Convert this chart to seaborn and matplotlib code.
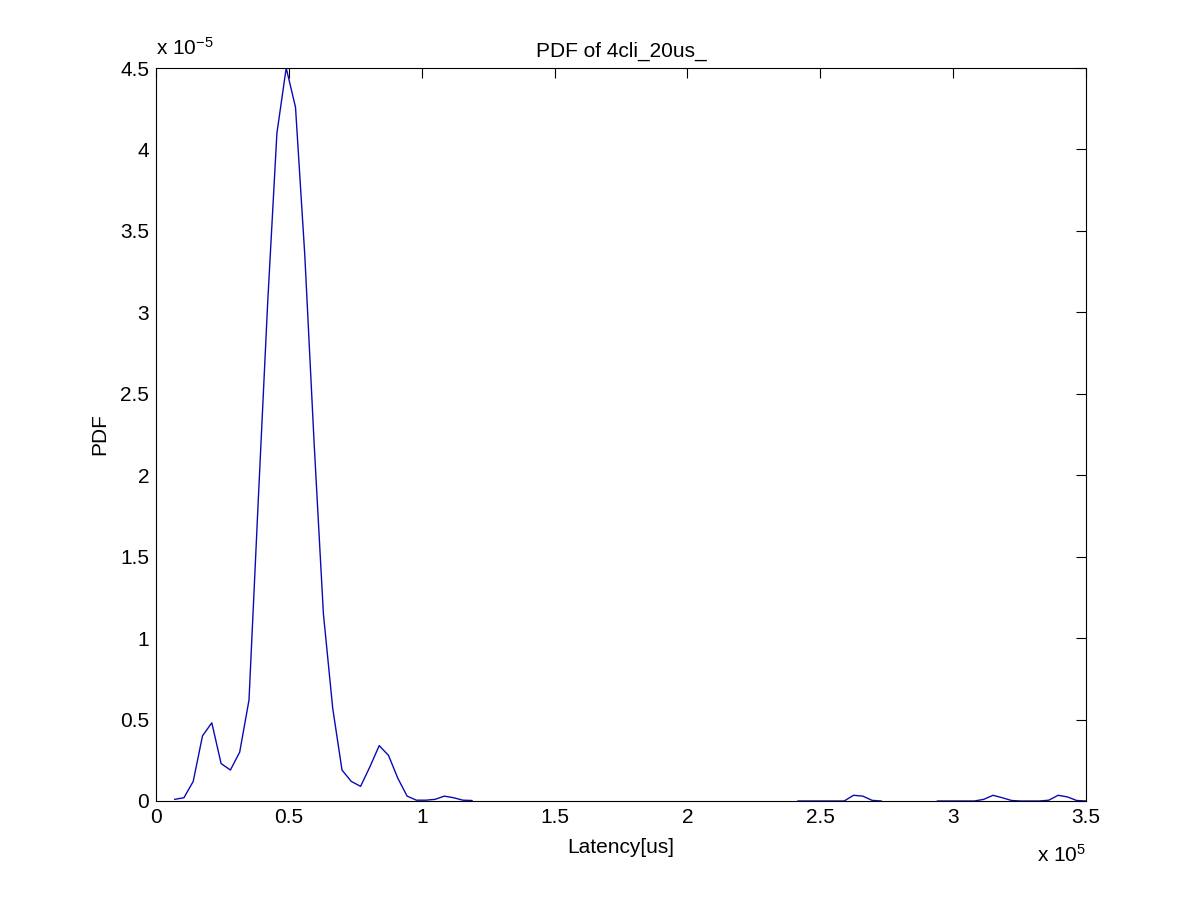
import numpy as np
import pandas as pd
import seaborn as sns
import matplotlib.pyplot as plt
from matplotlib.ticker import FuncFormatter, MultipleLocator

# Latency grid step of the histogram (us)
step = 3500

# Segment A: main body, bins 2..34
main_bins = list(range(2, 35))
main_pdf = [0.01, 0.02, 0.12, 0.40, 0.48, 0.23, 0.19, 0.30, 0.62, 1.85,
            3.05, 4.10, 4.50, 4.26, 3.35, 2.20, 1.15, 0.57, 0.19, 0.12,
            0.09, 0.21, 0.34, 0.28, 0.14, 0.03, 0.005, 0.005, 0.01, 0.03,
            0.02, 0.005, 0.003]

# Segment B: small bump around 2.6e5
mid_bins = list(range(69, 79))
mid_pdf = [0.0, 0.0, 0.0, 0.0, 0.0, 0.0, 0.035, 0.03, 0.004, 0.0]

# Segment C: tail between 2.95e5 and 3.5e5
tail_bins = list(range(84, 101))
tail_pdf = [0.0, 0.0, 0.0, 0.0, 0.0, 0.01, 0.035, 0.02, 0.003, 0.0,
            0.0, 0.0, 0.005, 0.035, 0.025, 0.003, 0.0]

frames = []
for name, bins, pdf in [("A", main_bins, main_pdf),
                        ("B", mid_bins, mid_pdf),
                        ("C", tail_bins, tail_pdf)]:
    frames.append(pd.DataFrame({
        "Latency": np.array(bins) * step,
        "PDF": np.array(pdf) * 1e-5,
        "segment": name,
    }))
df = pd.concat(frames, ignore_index=True)

sns.set_style("white")
plt.rcParams["font.family"] = ["Liberation Sans", "DejaVu Sans"]
plt.rcParams["mathtext.default"] = "regular"
plt.rcParams["text.color"] = "black"
plt.rcParams["axes.labelcolor"] = "black"

fig = plt.figure(figsize=(12, 9), dpi=100)
ax = fig.add_axes([0.13, 0.11, 0.775, 0.8144])

sns.lineplot(data=df, x="Latency", y="PDF", units="segment", estimator=None,
             color="#0a0ab4", linewidth=1.0, ax=ax, legend=False)

ax.set_xlim(0, 3.5e5)
ax.set_ylim(0, 4.5e-5)
ax.xaxis.set_major_locator(MultipleLocator(0.5e5))
ax.yaxis.set_major_locator(MultipleLocator(0.5e-5))
ax.xaxis.set_major_formatter(FuncFormatter(lambda v, p: f"{v / 1e5:g}"))
ax.yaxis.set_major_formatter(FuncFormatter(lambda v, p: f"{v / 1e-5:g}"))

ax.tick_params(direction="in", length=7, width=0.8, labelsize=15,
               top=True, right=True, colors="black", labelcolor="black", pad=5)
for s in ax.spines.values():
    s.set_color("black")
    s.set_linewidth(0.8)

ax.set_title("PDF of 4cli_20us_", fontsize=15, pad=8, color="black")
ax.set_xlabel("Latency[us]", fontsize=15, labelpad=8)
ax.set_ylabel("PDF", fontsize=15, labelpad=8)

# MATLAB-style exponent labels
ax.text(0.0, 1.012, "x 10$^{\\mathregular{-5}}$", transform=ax.transAxes,
        fontsize=15, ha="left", va="bottom", color="black")
ax.text(1.0, -0.083, "x 10$^{5}$", transform=ax.transAxes, fontsize=15,
        ha="right", va="baseline", color="black")

fig.savefig("out.png", dpi=100, facecolor="white")
